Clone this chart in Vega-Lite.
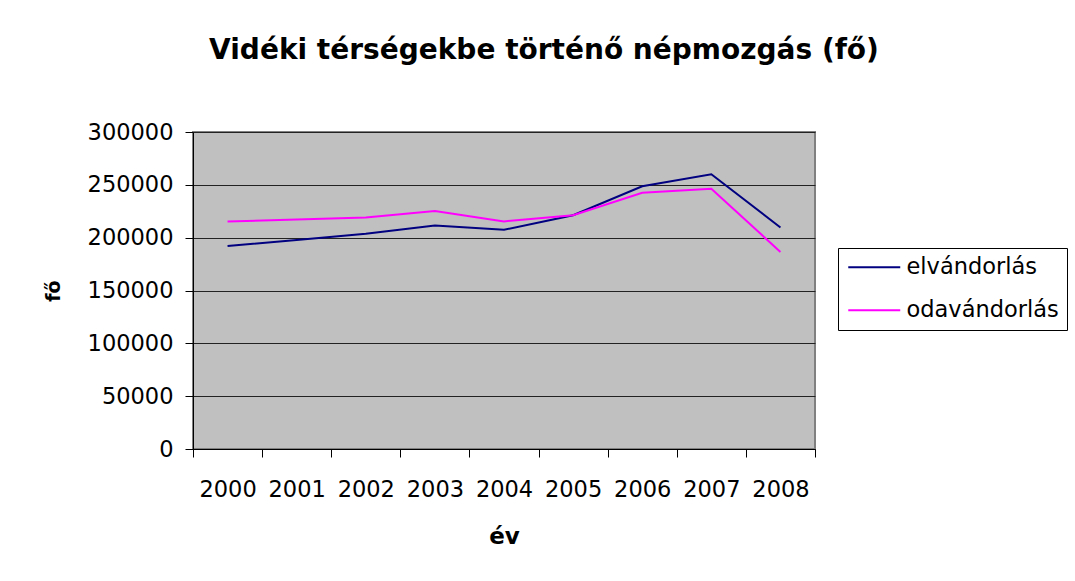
{
  "$schema": "https://vega.github.io/schema/vega-lite/v6.json",
  "width": 622,
  "height": 317,
  "autosize": {"type": "none"},
  "padding": {"left": 193, "top": 132, "right": 260, "bottom": 132},
  "background": "white",
  "title": {
    "text": "Vidéki térségekbe történő népmozgás (fő)",
    "font": "DejaVu Sans",
    "fontSize": 28,
    "fontWeight": "bold",
    "color": "black",
    "anchor": "middle",
    "dx": 40,
    "offset": 56
  },
  "data": {
    "values": [
      {"ev": "2000", "sorozat": "elvándorlás", "fo": 192000},
      {"ev": "2001", "sorozat": "elvándorlás", "fo": 197800},
      {"ev": "2002", "sorozat": "elvándorlás", "fo": 203800},
      {"ev": "2003", "sorozat": "elvándorlás", "fo": 211400},
      {"ev": "2004", "sorozat": "elvándorlás", "fo": 207400},
      {"ev": "2005", "sorozat": "elvándorlás", "fo": 221200},
      {"ev": "2006", "sorozat": "elvándorlás", "fo": 248600},
      {"ev": "2007", "sorozat": "elvándorlás", "fo": 260000},
      {"ev": "2008", "sorozat": "elvándorlás", "fo": 209600},
      {"ev": "2000", "sorozat": "odavándorlás", "fo": 215300},
      {"ev": "2001", "sorozat": "odavándorlás", "fo": 217200},
      {"ev": "2002", "sorozat": "odavándorlás", "fo": 219200},
      {"ev": "2003", "sorozat": "odavándorlás", "fo": 225300},
      {"ev": "2004", "sorozat": "odavándorlás", "fo": 215400},
      {"ev": "2005", "sorozat": "odavándorlás", "fo": 221200},
      {"ev": "2006", "sorozat": "odavándorlás", "fo": 242500},
      {"ev": "2007", "sorozat": "odavándorlás", "fo": 246200},
      {"ev": "2008", "sorozat": "odavándorlás", "fo": 186500}
    ]
  },
  "mark": {"type": "line", "strokeWidth": 2},
  "encoding": {
    "x": {
      "field": "ev",
      "type": "ordinal",
      "scale": {"type": "band", "paddingInner": 0, "paddingOuter": 0},
      "axis": {
        "title": "év",
        "titleFont": "DejaVu Sans",
        "titleFontSize": 23,
        "titleFontWeight": "bold",
        "titleColor": "black",
        "titlePadding": 25,
        "labelFont": "DejaVu Sans",
        "labelFontSize": 22.5,
        "labelColor": "black",
        "labelAngle": 0,
        "labelPadding": 21,
        "tickBand": "extent",
        "tickSize": 8,
        "tickColor": "black",
        "domainColor": "black",
        "domainWidth": 1,
        "grid": false
      }
    },
    "y": {
      "field": "fo",
      "type": "quantitative",
      "scale": {"domain": [0, 300000], "nice": false},
      "axis": {
        "title": "fő",
        "titleFont": "DejaVu Sans",
        "titleFontSize": 19,
        "titleFontWeight": "bold",
        "titleColor": "black",
        "titlePadding": 24,
        "labelFont": "DejaVu Sans",
        "labelFontSize": 22.5,
        "labelColor": "black",
        "labelPadding": 12,
        "values": [0, 50000, 100000, 150000, 200000, 250000, 300000],
        "format": "d",
        "tickSize": 8,
        "tickColor": "black",
        "domainColor": "black",
        "grid": true,
        "gridColor": "#222222",
        "gridWidth": 1
      }
    },
    "color": {
      "field": "sorozat",
      "type": "nominal",
      "scale": {"domain": ["elvándorlás", "odavándorlás"], "range": ["#000080", "#FF00FF"]},
      "legend": {
        "title": null,
        "orient": "none",
        "legendX": 645,
        "legendY": 116,
        "symbolType": "M-2.6,0H2.6",
        "symbolSize": 400,
        "symbolStrokeWidth": 2,
        "symbolOffset": 17,
        "labelFont": "DejaVu Sans",
        "labelFontSize": 22.5,
        "labelColor": "black",
        "labelOffset": 21,
        "strokeColor": "black",
        "padding": 8,
        "rowPadding": 20,
        "labelLimit": 300
      }
    }
  },
  "config": {
    "view": {"fill": "#C0C0C0", "stroke": "#808080", "strokeWidth": 2}
  }
}
